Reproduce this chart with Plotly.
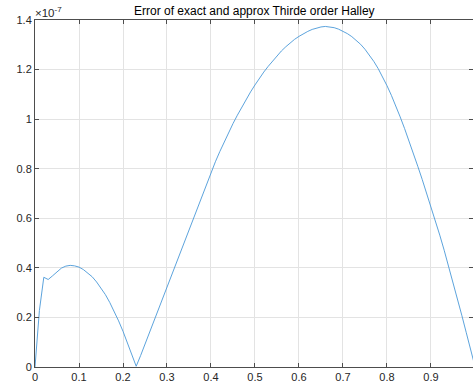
import plotly.graph_objects as go

# x sample positions
x_vals = [round(i * 0.01, 2) for i in range(101)]

# error values in units of 1e-7
err_e7 = [
    0.000, 0.228, 0.362, 0.353, 0.368, 0.385, 0.399, 0.407, 0.410, 0.408,
    0.403, 0.393, 0.380, 0.364, 0.343, 0.319, 0.292, 0.260, 0.225, 0.186,
    0.144, 0.097, 0.047, 0.003, 0.046, 0.092, 0.138, 0.184, 0.230, 0.276,
    0.322, 0.369, 0.416, 0.463, 0.510, 0.557, 0.604, 0.650, 0.696, 0.742,
    0.786, 0.828, 0.869, 0.908, 0.946, 0.982, 1.016, 1.049, 1.080, 1.110,
    1.138, 1.165, 1.190, 1.213, 1.235, 1.256, 1.275, 1.292, 1.308, 1.322,
    1.334, 1.345, 1.354, 1.362, 1.368, 1.372, 1.374, 1.373, 1.369, 1.363,
    1.355, 1.345, 1.333, 1.319, 1.302, 1.282, 1.259, 1.233, 1.204, 1.171,
    1.135, 1.096, 1.054, 1.009, 0.962, 0.913, 0.862, 0.810, 0.757, 0.703,
    0.648, 0.591, 0.532, 0.471, 0.408, 0.343, 0.277, 0.209, 0.140, 0.071,
    0.002,
]

x_ticks = [0, 0.1, 0.2, 0.3, 0.4, 0.5, 0.6, 0.7, 0.8, 0.9]
x_tick_labels = ["0", "0.1", "0.2", "0.3", "0.4", "0.5", "0.6", "0.7", "0.8", "0.9"]
y_ticks = [0, 0.2, 0.4, 0.6, 0.8, 1.0, 1.2, 1.4]
y_tick_labels = ["0", "0.2", "0.4", "0.6", "0.8", "1", "1.2", "1.4"]

title_text = "Error of exact and approx Thirde order Halley"
exponent_text = "×10<sup>-7</sup>"

FONT = "Liberation Sans, Arial, Helvetica, sans-serif"
AX = "#262626"
GRID = "#e3e3e3"

fig = go.Figure()
fig.add_trace(go.Scatter(
    x=x_vals, y=err_e7, mode="lines",
    line=dict(color="#4a98d8", width=0.9),
    hoverinfo="skip", showlegend=False,
))

axis_common = dict(
    showline=True, linecolor="#4d4d4d", linewidth=1, mirror="ticks",
    ticks="inside", ticklen=4, tickcolor="#4d4d4d", tickwidth=1,
    showgrid=True, gridcolor=GRID, gridwidth=1, zeroline=False,
    tickfont=dict(family=FONT, size=11, color=AX),
)

fig.update_layout(
    width=473, height=388,
    margin=dict(l=35, r=0, t=20, b=21),
    paper_bgcolor="white", plot_bgcolor="white",
    xaxis=dict(range=[0, 0.9955], tickvals=x_ticks, ticktext=x_tick_labels, **axis_common),
    yaxis=dict(range=[0, 1.4], tickvals=y_ticks, ticktext=y_tick_labels, **axis_common),
    annotations=[
        dict(text=title_text, xref="paper", yref="paper", x=0.5, y=1,
             xanchor="center", yanchor="bottom", yshift=0, showarrow=False,
             font=dict(family=FONT, size=12, color="#000000")),
        dict(text=exponent_text, xref="paper", yref="paper", x=0, y=1,
             xanchor="left", yanchor="bottom", yshift=-1, xshift=-2, showarrow=False,
             font=dict(family=FONT, size=11.5, color=AX)),
    ],
)

fig.write_html("out.html")
